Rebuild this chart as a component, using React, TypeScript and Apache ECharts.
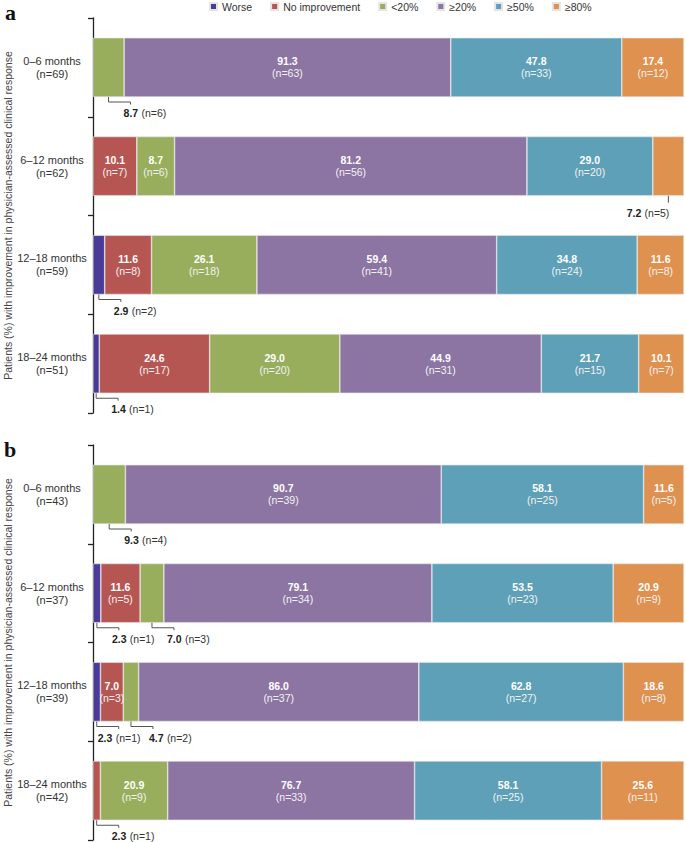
import React, { useEffect, useRef } from 'react';
import * as echarts from 'echarts';

const periods = ['0–6 months', '6–12 months', '12–18 months', '18–24 months'];
const totalA = [69, 62, 59, 51];
const totalB = [43, 37, 39, 42];
const responseNames = ['Worse', 'No improvement', '<20%', '≥20%', '≥50%', '≥80%'];
const colors = ['#4b3b98', '#b65653', '#98ae5d', '#8c75a2', '#5da0b7', '#df914f'];
const axisTitle = 'Patients (%) with improvement in physician-assessed clinical response';

// Panel a: percentages and patient counts, by period
const aWorse = [null, null, 2.9, 1.4];
const aWorseN = [null, null, 2, 1];
const aNoImp = [null, 10.1, 11.6, 24.6];
const aNoImpN = [null, 7, 8, 17];
const aLt20 = [8.7, 8.7, 26.1, 29.0];
const aLt20N = [6, 6, 18, 20];
const aGe20 = [91.3, 81.2, 59.4, 44.9];
const aGe20N = [63, 56, 41, 31];
const aGe50 = [47.8, 29.0, 34.8, 21.7];
const aGe50N = [33, 20, 24, 15];
const aGe80 = [17.4, 7.2, 11.6, 10.1];
const aGe80N = [12, 5, 8, 7];

// Panel b
const bWorse = [null, 2.3, 2.3, null];
const bWorseN = [null, 1, 1, null];
const bNoImp = [null, 11.6, 7.0, 2.3];
const bNoImpN = [null, 5, 3, 1];
const bLt20 = [9.3, 7.0, 4.7, 20.9];
const bLt20N = [4, 3, 2, 9];
const bGe20 = [90.7, 79.1, 86.0, 76.7];
const bGe20N = [39, 34, 37, 33];
const bGe50 = [58.1, 53.5, 62.8, 58.1];
const bGe50N = [25, 23, 27, 25];
const bGe80 = [11.6, 20.9, 18.6, 25.6];
const bGe80N = [5, 9, 8, 11];

// segments whose labels sit below the bar (row, series index)
const calloutsA = [
  { row: 0, series: 2 },
  { row: 1, series: 5, straight: true },
  { row: 2, series: 0 },
  { row: 3, series: 0 },
];
const calloutsB = [
  { row: 0, series: 2 },
  { row: 1, series: 0 },
  { row: 1, series: 2 },
  { row: 2, series: 0, dx: -21 },
  { row: 2, series: 2, dx: -4 },
  { row: 3, series: 1 },
];

const FONT = "'Liberation Sans', Arial, sans-serif";

type Panel = {
  values: (number | null)[][];
  counts: (number | null)[][];
  totals: number[];
  callouts: { row: number; series: number; straight?: boolean; dx?: number }[];
};

const panels: Panel[] = [
  {
    values: [aWorse, aNoImp, aLt20, aGe20, aGe50, aGe80],
    counts: [aWorseN, aNoImpN, aLt20N, aGe20N, aGe50N, aGe80N],
    totals: totalA,
    callouts: calloutsA,
  },
  {
    values: [bWorse, bNoImp, bLt20, bGe20, bGe50, bGe80],
    counts: [bWorseN, bNoImpN, bLt20N, bGe20N, bGe50N, bGe80N],
    totals: totalB,
    callouts: calloutsB,
  },
];

function buildOption() {
  const grids: any[] = [];
  const xAxes: any[] = [];
  const yAxes: any[] = [];
  const series: any[] = [];
  const tops = [18, 445];

  panels.forEach((p, pi) => {
    grids.push({ left: 93, width: 591, top: tops[pi], height: 395, containLabel: false, outerBoundsMode: 'none' });
    xAxes.push({ type: 'value', gridIndex: pi, min: 0, max: 100, show: false });
    yAxes.push({
      type: 'category',
      gridIndex: pi,
      inverse: true,
      data: periods.map((per, i) => `${per}\n(n=${p.totals[i]})`),
      axisLine: { lineStyle: { color: '#222', width: 1.3 } },
      axisTick: { show: true, length: 5, lineStyle: { color: '#222', width: 1.3 } },
      axisLabel: { color: '#333', fontSize: 11, lineHeight: 13, align: 'center', margin: 41, fontFamily: FONT },
      name: axisTitle,
      nameLocation: 'middle',
      nameGap: 80,
      nameMoveOverlap: false,
      nameRotate: 90,
      nameTextStyle: { color: '#444', fontSize: 10.5, fontFamily: FONT },
    });

    const sums = periods.map((_, r) =>
      p.values.reduce((acc, arr) => acc + (arr[r] == null ? 0 : (arr[r] as number)), 0)
    );
    const isOut = (s: number, r: number) => p.callouts.some((c) => c.row === r && c.series === s);

    p.values.forEach((arr, s) => {
      series.push({
        type: 'bar',
        name: responseNames[s],
        stack: 'panel' + pi,
        xAxisIndex: pi,
        yAxisIndex: pi,
        barWidth: '60%',
        itemStyle: { color: colors[s], borderColor: '#e4e4e4', borderWidth: 0.6 },
        label: {
          show: true,
          position: 'inside',
          fontFamily: FONT,
          formatter: (params: any) => {
            const d = params.data;
            if (!d || typeof d !== 'object' || d.out) return '';
            return `{v|${d.raw.toFixed(1)}}\n{n|(n=${d.n})}`;
          },
          rich: {
            v: { color: '#ffffff', fontWeight: 'bold', fontSize: 10.5, lineHeight: 12, fontFamily: FONT },
            n: { color: '#f2f2f2', fontSize: 10.5, lineHeight: 12, fontFamily: FONT },
          },
        },
        data: arr.map((v, r) =>
          v == null
            ? '-'
            : { value: (v / sums[r]) * 100, raw: v, n: p.counts[s][r], out: isOut(s, r) }
        ),
      });
    });

    const calloutData = p.callouts.map((c) => {
      let start = 0;
      for (let s = 0; s < c.series; s++) {
        const v = p.values[s][c.row];
        if (v != null) start += (v / sums[c.row]) * 100;
      }
      const v = p.values[c.series][c.row] as number;
      return [start + ((v / sums[c.row]) * 100) / 2, c.row];
    });

    series.push({
      type: 'custom',
      name: 'callouts' + pi,
      xAxisIndex: pi,
      yAxisIndex: pi,
      silent: true,
      z: 10,
      data: calloutData,
      renderItem: (params: any, api: any) => {
        const c = p.callouts[params.dataIndex];
        const v = p.values[c.series][c.row] as number;
        const n = p.counts[c.series][c.row];
        const pt = api.coord([api.value(0), api.value(1)]);
        const band = api.size([0, 1])[1];
        const bottom = pt[1] + band * 0.3;
        const xc = pt[0];
        const text = `{v|${v.toFixed(1)}} {n|(n=${n})}`;
        const rich = {
          v: { fill: '#222', fontWeight: 'bold', fontSize: 10.5, fontFamily: FONT },
          n: { fill: '#333', fontSize: 10.5, fontFamily: FONT },
        };
        const lineStyle = { stroke: '#555', lineWidth: 1, fill: null };
        if (c.straight) {
          return {
            type: 'group',
            children: [
              { type: 'line', shape: { x1: xc, y1: bottom, x2: xc, y2: bottom + 7 }, style: lineStyle },
              {
                type: 'text',
                style: { text, x: xc + 1, y: bottom + 17, align: 'right', verticalAlign: 'middle', rich },
              },
            ],
          };
        }
        const end = xc + 22;
        return {
          type: 'group',
          children: [
            {
              type: 'polyline',
              shape: { points: [[xc, bottom], [xc, bottom + 5], [end, bottom + 5], [end, bottom + 7.5]] },
              style: lineStyle,
            },
            {
              type: 'text',
              style: { text, x: end + (c.dx ?? -7), y: bottom + 16, align: 'left', verticalAlign: 'middle', rich },
            },
          ],
        };
      },
    });
  });

  return {
    animation: false,
    backgroundColor: '#ffffff',
    textStyle: { fontFamily: FONT },
    legend: {
      data: responseNames,
      left: 209,
      top: 1,
      padding: 0,
      icon: 'rect',
      itemWidth: 7,
      itemHeight: 7,
      itemGap: 18,
      textStyle: { fontSize: 10.5, color: '#333', fontFamily: FONT },
    },
    graphic: [
      { type: 'text', left: 5, top: 1, style: { text: 'a', font: "bold 22px 'Liberation Serif', serif", fill: '#111' } },
      { type: 'text', left: 4, top: 438, style: { text: 'b', font: "bold 22px 'Liberation Serif', serif", fill: '#111' } },
    ],
    grid: grids,
    xAxis: xAxes,
    yAxis: yAxes,
    series,
  };
}

export default function App() {
  const ref = useRef<HTMLDivElement>(null);
  useEffect(() => {
    if (!ref.current) return;
    const chart = echarts.init(ref.current, undefined, { renderer: 'svg' });
    chart.setOption(buildOption() as any);
    return () => chart.dispose();
  }, []);
  return (
    <div
      ref={ref}
      style={{ position: 'absolute', left: 0, top: 0, width: 685, height: 842, background: '#fff' }}
    />
  );
}
